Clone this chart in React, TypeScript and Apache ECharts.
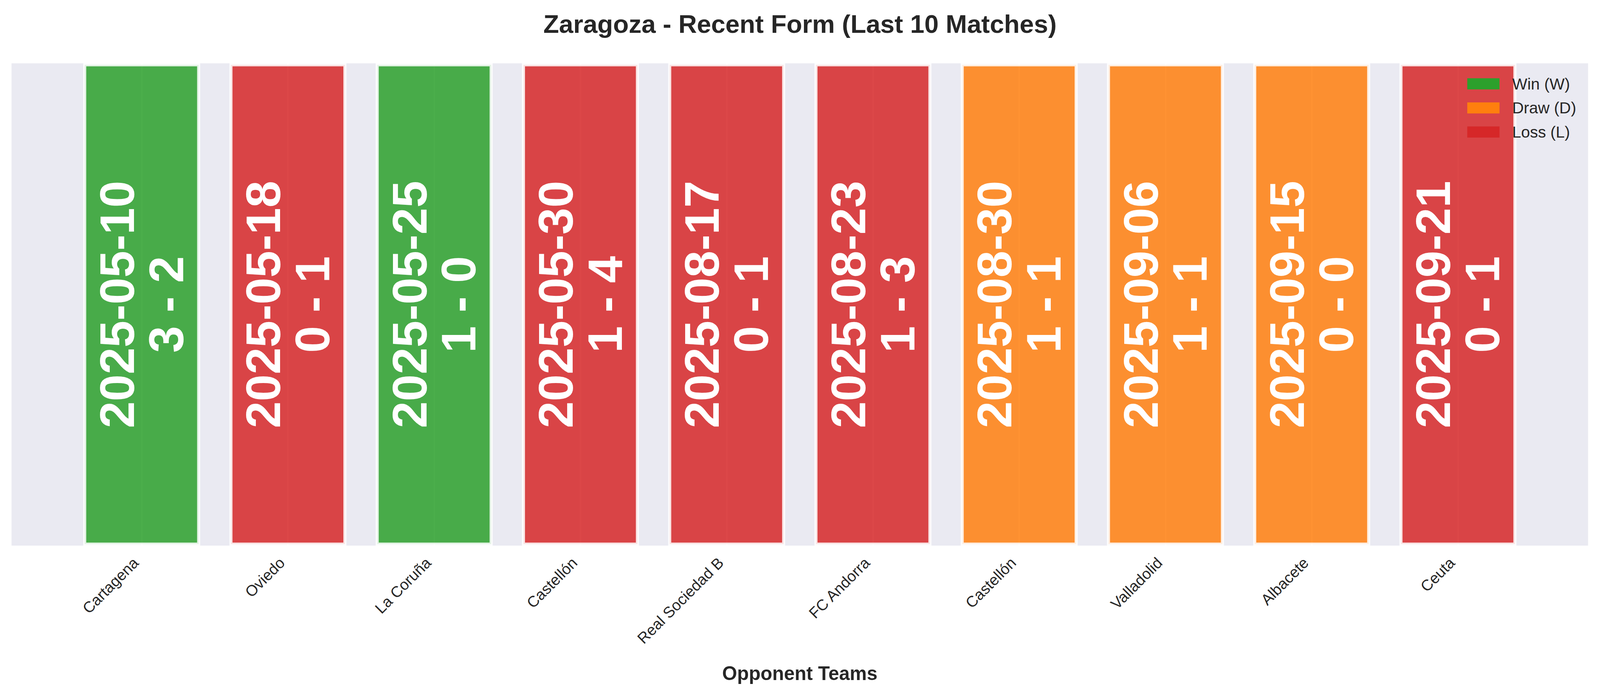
import { useEffect, useRef } from "react";
import * as echarts from "echarts";

// match data, oldest first
const teams = [
  "Cartagena",
  "Oviedo",
  "La Coruña",
  "Castellón",
  "Real Sociedad B",
  "FC Andorra",
  "Castellón",
  "Valladolid",
  "Albacete",
  "Ceuta",
];
const dates = [
  "2025-05-10",
  "2025-05-18",
  "2025-05-25",
  "2025-05-30",
  "2025-08-17",
  "2025-08-23",
  "2025-08-30",
  "2025-09-06",
  "2025-09-15",
  "2025-09-21",
];
const scores = ["3 - 2", "0 - 1", "1 - 0", "1 - 4", "0 - 1", "1 - 3", "1 - 1", "1 - 1", "0 - 0", "0 - 1"];
const results = ["W", "L", "W", "L", "L", "L", "D", "D", "D", "L"];

const outcomes = [
  { key: "W", name: "Win (W)", color: "#2ca02c", fill: "rgba(44,160,44,0.85)" },
  { key: "D", name: "Draw (D)", color: "#ff7f0e", fill: "rgba(255,127,14,0.85)" },
  { key: "L", name: "Loss (L)", color: "#d62728", fill: "rgba(214,39,40,0.85)" },
];

const FONT = "'Liberation Sans', Arial, sans-serif";
const INK = "#262626";

export default function App() {
  const ref = useRef<HTMLDivElement | null>(null);

  useEffect(() => {
    if (!ref.current) return;
    const el = ref.current;
    const chart = echarts.init(el, undefined, { renderer: "svg" });
    const idx = teams.map((_, i) => i);

    // layout was measured on a 4170 x 1768 canvas; scale to the real box
    const kx = el.clientWidth / 4170;
    const ky = el.clientHeight / 1768;
    const k = Math.min(kx, ky);
    const X = (v: number) => v * kx;
    const Y = (v: number) => v * ky;
    const F = (v: number) => v * k;

    chart.setOption({
      animation: false,
      backgroundColor: "#ffffff",
      textStyle: { fontFamily: FONT },
      title: {
        text: "Zaragoza - Recent Form (Last 10 Matches)",
        left: "center",
        top: Y(22),
        textStyle: { fontSize: F(66.7), fontWeight: "bold", color: INK, fontFamily: FONT, lineHeight: F(70) },
      },
      legend: {
        orient: "vertical",
        left: X(3819),
        top: Y(189),
        itemWidth: F(84),
        itemHeight: F(29),
        itemGap: F(21),
        icon: "rect",
        data: outcomes.map((o) => ({ name: o.name, itemStyle: { color: o.color, borderWidth: 0 } })),
        textStyle: { fontSize: F(41.7), color: INK, fontFamily: FONT, lineHeight: F(30), padding: [0, 0, 0, F(28)] },
      },
      grid: {
        left: X(30),
        right: X(31),
        top: Y(162),
        bottom: Y(372),
        show: true,
        backgroundColor: "#eaeaf2",
        borderWidth: 0,
      },
      xAxis: {
        type: "value",
        min: -0.89,
        max: 9.89,
        axisLine: { show: false },
        axisTick: { show: false, customValues: idx },
        axisLabel: {
          customValues: idx,
          rotate: 45,
          margin: F(22),
          padding: [0, F(22), 0, 0],
          fontSize: F(40),
          color: INK,
          fontFamily: FONT,
          formatter: (v: number) => teams[Math.round(v)] ?? "",
        },
        splitLine: { show: true, lineStyle: { color: "#ffffff", width: F(4) } },
        name: "Opponent Teams",
        nameLocation: "middle",
        nameGap: Y(302),
        nameTextStyle: { fontSize: F(50), fontWeight: "bold", color: INK, fontFamily: FONT },
      },
      yAxis: { type: "value", min: 0, max: 1, show: false, splitLine: { show: false } },
      series: outcomes.map((o) => ({
        type: "bar",
        name: o.name,
        barWidth: "80%",
        barGap: "-100%",
        itemStyle: { color: o.fill, borderColor: "rgba(255,255,255,0.85)", borderWidth: F(8) },
        label: {
          show: true,
          position: "inside",
          rotate: 90,
          color: "#ffffff",
          fontSize: F(126),
          fontWeight: "bold",
          fontFamily: FONT,
          lineHeight: F(128),
          padding: [0, 0, F(20), 0],
          formatter: (p: any) => `${dates[p.value[0]]}\n${scores[p.value[0]]}`,
        },
        data: idx.filter((i) => results[i] === o.key).map((i) => ({ value: [i, 1] })),
      })),
    });

    return () => chart.dispose();
  }, []);

  return <div ref={ref} style={{ position: "fixed", left: 0, top: 0, width: "100vw", height: "100vh" }} />;
}
